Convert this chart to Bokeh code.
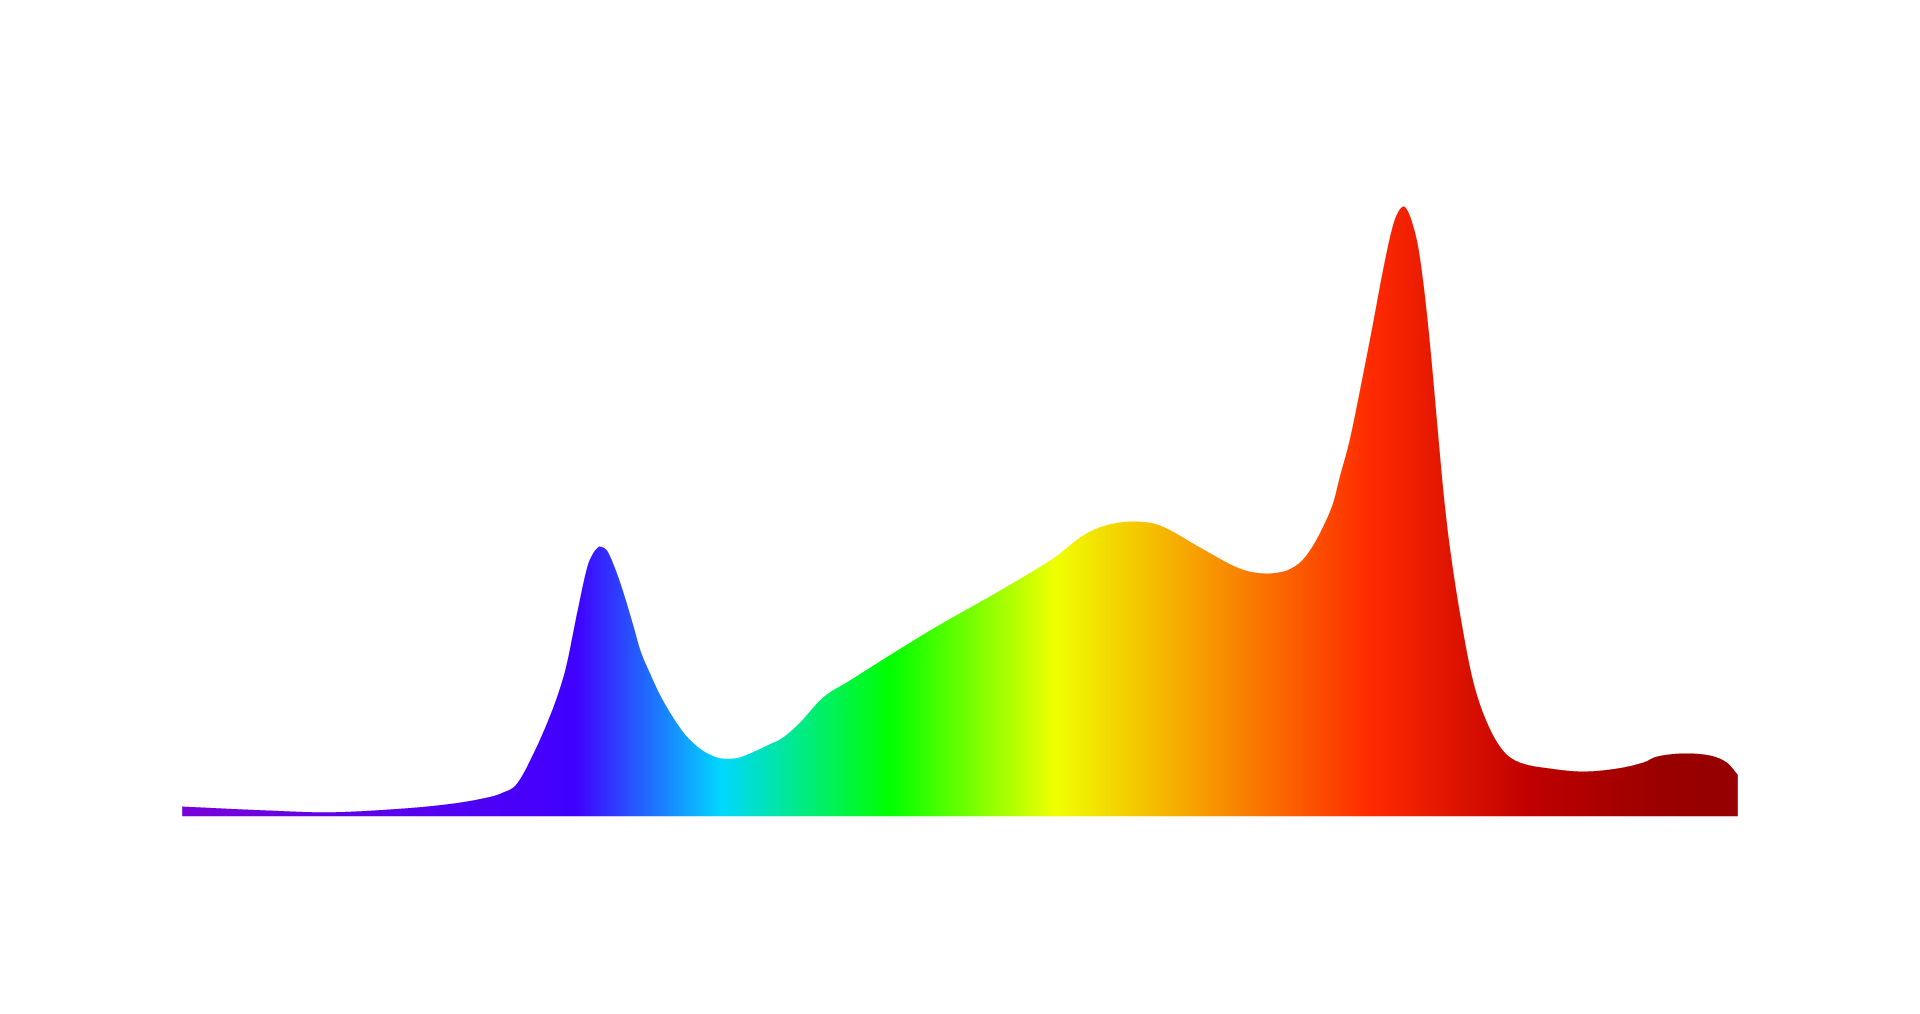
import numpy as np
from bokeh.plotting import figure
from bokeh.models import Range1d
from bokeh.embed import file_html
from bokeh.resources import INLINE

# Spectrum: wavelength (nm) and relative intensity (%)
wavelength = [380.0, 402.7, 418.2, 436.9, 449.8, 458.5, 462.6, 466.2, 470.8, 474.7,
              477.2, 479.0, 481.6, 484.2, 485.7, 486.7, 487.5, 489.3, 490.9, 492.7,
              494.5, 496.3, 498.0, 500.4, 502.9, 506.0, 509.4, 513.2, 516.3, 518.9,
              522.7, 526.0, 530.4, 534.5, 538.9, 544.8, 551.7, 559.4, 567.2, 574.9,
              582.6, 590.3, 603.9, 611.6, 617.3, 624.4, 631.4, 641.7, 650.1, 654.5,
              658.9, 663.0, 665.5, 668.1, 670.7, 673.3, 675.8, 677.6, 680.2, 683.5,
              686.1, 688.4, 690.5, 692.0, 693.8, 695.1, 696.4, 697.7, 698.9, 700.2,
              701.5, 702.8, 704.3, 705.9, 708.5, 711.8, 715.4, 719.5, 723.9, 731.6,
              740.1, 748.8, 755.5, 759.1, 765.7, 772.7, 777.0, 780.0]
intensity = [1.64, 0.98, 0.70, 1.31, 2.13, 3.11, 3.93, 5.41, 10.82, 16.56,
             20.98, 25.08, 33.28, 40.82, 43.11, 43.93, 44.26, 43.61, 41.48, 38.36,
             34.75, 30.82, 27.05, 23.44, 20.00, 16.56, 13.44, 11.15, 10.00, 9.51,
             9.59, 10.33, 11.64, 12.95, 15.41, 19.51, 22.30, 25.41, 28.52, 31.48,
             34.26, 37.05, 42.30, 46.07, 47.70, 48.36, 47.70, 44.10, 41.15, 40.16,
             39.84, 40.16, 40.82, 42.13, 44.43, 47.54, 51.31, 55.74, 61.97, 72.30,
             80.82, 88.69, 95.08, 98.36, 100.0, 99.18, 96.89, 93.44, 88.20, 80.98,
             72.30, 62.95, 52.62, 43.93, 33.11, 22.30, 15.41, 10.82, 8.85, 7.87,
             7.38, 7.87, 8.85, 9.84, 10.33, 10.00, 8.85, 6.72]

# Colour gradient stops (fraction of the wavelength span -> colour)
stop_pos = [0.0, 0.2527, 0.346, 0.455, 0.5609, 0.764, 0.866, 0.9528, 1.0]
stop_col = ["#7800d8", "#4000ff", "#00d8ff", "#00ff00", "#f0ff00",
            "#ff2a00", "#c00000", "#990000", "#960000"]

X0, X1 = 380.0, 780.0
Y_END = 116.07

W, H = 1904, 998
FRAME_W = 1557
LEFT, TOP, FRAME_H = 181, 108, 708

p = figure(width=W, height=H, output_backend="svg", toolbar_location=None,
           x_range=Range1d(X0, X1), y_range=Range1d(0, Y_END),
           x_axis_location=None, y_axis_location=None,
           min_border_left=LEFT, min_border_right=W - LEFT - FRAME_W,
           min_border_top=TOP, min_border_bottom=H - TOP - FRAME_H)
p.grid.visible = False
p.outline_line_color = None
p.background_fill_color = "white"
p.border_fill_color = "white"


def hex2rgb(h):
    h = h.lstrip("#")
    return [int(h[i:i + 2], 16) for i in (0, 2, 4)]


# horizontal gradient image spanning the wavelength range
rgb = np.array([hex2rgb(c) for c in stop_col], dtype=float)
t = (np.arange(FRAME_W) + 0.5) / FRAME_W
img = np.empty((1, FRAME_W), dtype=np.uint32)
view = img.view(dtype=np.uint8).reshape((1, FRAME_W, 4))
for ch in range(3):
    view[0, :, ch] = np.round(np.interp(t, stop_pos, rgb[:, ch])).astype(np.uint8)
view[0, :, 3] = 255

inset = (X1 - X0) / FRAME_W * 0.7   # keep image edges inside the white mask
p.image_rgba(image=[img], x=X0 + inset, y=0, dw=X1 - X0 - 2 * inset,
             dh=max(intensity) * 1.02)


# smooth (Catmull-Rom style cubic Hermite) rendering through the read points
def smooth(x, y, xs):
    x = np.asarray(x, float)
    y = np.asarray(y, float)
    n = len(x)
    h = np.diff(x)
    m = np.zeros(n)
    m[0] = (y[1] - y[0]) / h[0]
    m[-1] = (y[-1] - y[-2]) / h[-1]
    m[1:-1] = (y[2:] - y[:-2]) / (x[2:] - x[:-2])
    idx = np.clip(np.searchsorted(x, xs) - 1, 0, n - 2)
    hk = h[idx]
    s = (xs - x[idx]) / hk
    h00 = 2 * s**3 - 3 * s**2 + 1
    h10 = s**3 - 2 * s**2 + s
    h01 = -2 * s**3 + 3 * s**2
    h11 = s**3 - s**2
    return h00 * y[idx] + h10 * hk * m[idx] + h01 * y[idx + 1] + h11 * hk * m[idx + 1]


xs = np.linspace(X0, X1, 3000)
ys = smooth(wavelength, intensity, xs)
pad = (X1 - X0) * 0.01
mx = np.concatenate([[X0 - pad], xs, [X1 + pad]])
my = np.concatenate([[ys[0]], ys, [ys[-1]]])

# white mask above the spectrum curve
p.varea(x=mx, y1=my, y2=np.full(len(mx), Y_END), fill_color="white", fill_alpha=1.0)

open("out.html", "w").write(file_html(p, INLINE))
